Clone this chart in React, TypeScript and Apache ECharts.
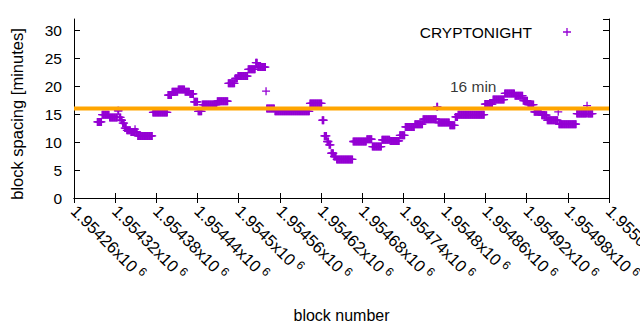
import React, { useEffect, useRef } from "react";
import * as echarts from "echarts";

// Block-spacing plateaus: each run starts at a block and
// holds its value until the next run starts.
const runStartBlock = [
  1954294, 1954301, 1954312, 1954324, 1954326, 1954329, 1954331, 1954334, 1954337, 1954343,
  1954349, 1954350, 1954353, 1954375, 1954397, 1954403, 1954412, 1954422, 1954429, 1954435,
  1954441, 1954447, 1954469, 1954485, 1954495, 1954499, 1954514, 1954525, 1954528, 1954540,
  1954541, 1954553, 1954604, 1954622, 1954625, 1954629, 1954632, 1954635, 1954639, 1954643,
  1954667, 1954687, 1954695, 1954709, 1954721, 1954735, 1954743, 1954757, 1954769, 1954789,
  1954791, 1954808, 1954816, 1954820, 1954859, 1954871, 1954888, 1954903, 1954915, 1954922,
  1954931, 1954942, 1954950, 1954966, 1954967, 1954993, 1955008, 1955009,
];
const runMinutes = [
  13.6, 14.9, 14.4, 15.6, 14.4, 13.9, 13.4, 12.5, 12.1, 11.8,
  12.3, 11.8, 11.1, 15.3, 18.4, 19.0, 19.4, 19.0, 18.6, 17.2,
  15.5, 16.7, 17.3, 20.5, 21.4, 21.8, 23.0, 24.2, 23.4, 19.1,
  16.0, 15.5, 16.9, 13.9, 11.1, 10.1, 9.5, 8.0, 7.4, 6.9,
  10.1, 10.5, 9.2, 10.4, 10.2, 11.2, 12.7, 13.2, 14.1, 16.3,
  13.5, 13.0, 14.5, 14.9, 16.8, 17.6, 18.7, 18.3, 17.4, 16.7,
  15.4, 14.8, 13.9, 15.4, 13.2, 15.1, 16.5, 15.1,
];
const lastBlockExclusive = 1955017;

const seriesName = "CRYPTONIGHT";
const xAxisTitle = "block number";
const yAxisTitle = "block spacing [minutes]";
const xMin = 1954260;
const xMax = 1955040;
const xStep = 60;
const yMin = 0;
const yMax = 32;
const yStep = 5;
const referenceMinutes = 16;
const referenceText = "16 min";
const referenceTextAt = [1954842, 20];

const FONT = "Liberation Sans, Arial, Helvetica, sans-serif";
const PURPLE = "#9400d3";
const ORANGE = "#ffa500";
const PLUS = "path://M3.35,0H4.65V3.35H8V4.65H4.65V8H3.35V4.65H0V3.35H3.35Z";

function buildPoints(): number[][] {
  const pts: number[][] = [];
  for (let i = 0; i < runStartBlock.length; i++) {
    const end = i + 1 < runStartBlock.length ? runStartBlock[i + 1] : lastBlockExclusive;
    for (let b = runStartBlock[i]; b < end; b++) pts.push([b, runMinutes[i]]);
  }
  return pts;
}

function fmtX(v: number): string {
  const m = parseFloat((v / 1e6).toPrecision(7));
  return `${m}x10{sup|6}`;
}

export default function App() {
  const ref = useRef<HTMLDivElement>(null);
  useEffect(() => {
    if (!ref.current) return;
    document.body.style.margin = "0";
    const chart = echarts.init(ref.current, undefined, { renderer: "svg" });
    const axisLine = { show: true, lineStyle: { color: "#000", width: 1 } };
    chart.setOption({
      animation: false,
      textStyle: { fontFamily: FONT },
      grid: { left: 74, right: 31, top: 19, bottom: 132, containLabel: false, outerBoundsMode: "none" },
      legend: {
        data: [seriesName],
        top: 19,
        right: 64,
        align: "right",
        itemWidth: 60,
        itemHeight: 8,
        icon: PLUS,
        textStyle: { fontSize: 15.5, color: "#000", fontFamily: FONT },
      },
      graphic: [
        {
          type: "text",
          x: 17,
          y: 114,
          rotation: Math.PI / 2,
          style: {
            text: yAxisTitle,
            fontSize: 16.5,
            fontFamily: FONT,
            fill: "#000",
            align: "center",
            verticalAlign: "middle",
          },
        },
      ],
      xAxis: [
        {
          type: "value",
          position: "bottom",
          min: xMin,
          max: xMax,
          interval: xStep,
          name: xAxisTitle,
          nameLocation: "middle",
          nameGap: 109,
          nameTextStyle: { fontSize: 16, color: "#000", fontFamily: FONT },
          axisLine,
          axisTick: { show: true, inside: true, length: 5, lineStyle: { color: "#000" } },
          splitLine: { show: false },
          axisLabel: {
            rotate: -45,
            margin: 10,
            fontSize: 16.5,
            color: "#000",
            fontFamily: FONT,
            showMinLabel: true,
            showMaxLabel: true,
            hideOverlap: false,
            formatter: fmtX,
            rich: { sup: { fontSize: 12, verticalAlign: "top", padding: [0, 0, 7, 4], color: "#000" } },
          },
        },
        {
          type: "value",
          position: "top",
          min: xMin,
          max: xMax,
          interval: xStep,
          axisLine,
          axisTick: { show: true, inside: true, length: 5, lineStyle: { color: "#000" } },
          splitLine: { show: false },
          axisLabel: { show: false },
        },
      ],
      yAxis: [
        {
          type: "value",
          position: "left",
          min: yMin,
          max: yMax,
          interval: yStep,
          axisLine,
          axisTick: { show: true, inside: true, length: 6, lineStyle: { color: "#000" } },
          splitLine: { show: false },
          axisLabel: { margin: 12, fontSize: 15.5, color: "#000", fontFamily: FONT, showMaxLabel: false },
        },
        {
          type: "value",
          position: "right",
          min: yMin,
          max: yMax,
          interval: yStep,
          axisLine,
          axisTick: { show: true, inside: true, length: 6, lineStyle: { color: "#000" } },
          splitLine: { show: false },
          axisLabel: { show: false },
        },
      ],
      series: [
        {
          name: seriesName,
          type: "scatter",
          xAxisIndex: 0,
          yAxisIndex: 0,
          symbol: PLUS,
          symbolSize: 8,
          itemStyle: { color: PURPLE, opacity: 1 },
          data: buildPoints(),
          z: 2,
        },
        {
          name: "reference",
          type: "line",
          xAxisIndex: 0,
          yAxisIndex: 0,
          symbol: "none",
          lineStyle: { color: ORANGE, width: 4 },
          data: [
            [xMin, referenceMinutes],
            [xMax, referenceMinutes],
          ],
          z: 3,
        },
        {
          name: "referenceLabel",
          type: "scatter",
          xAxisIndex: 0,
          yAxisIndex: 0,
          symbolSize: 0,
          data: [referenceTextAt],
          label: {
            show: true,
            position: "inside",
            formatter: referenceText,
            fontSize: 15.5,
            color: "#000",
            fontFamily: FONT,
          },
          z: 4,
        },
      ],
    });
    return () => chart.dispose();
  }, []);
  return <div ref={ref} style={{ width: 640, height: 330 }} />;
}
